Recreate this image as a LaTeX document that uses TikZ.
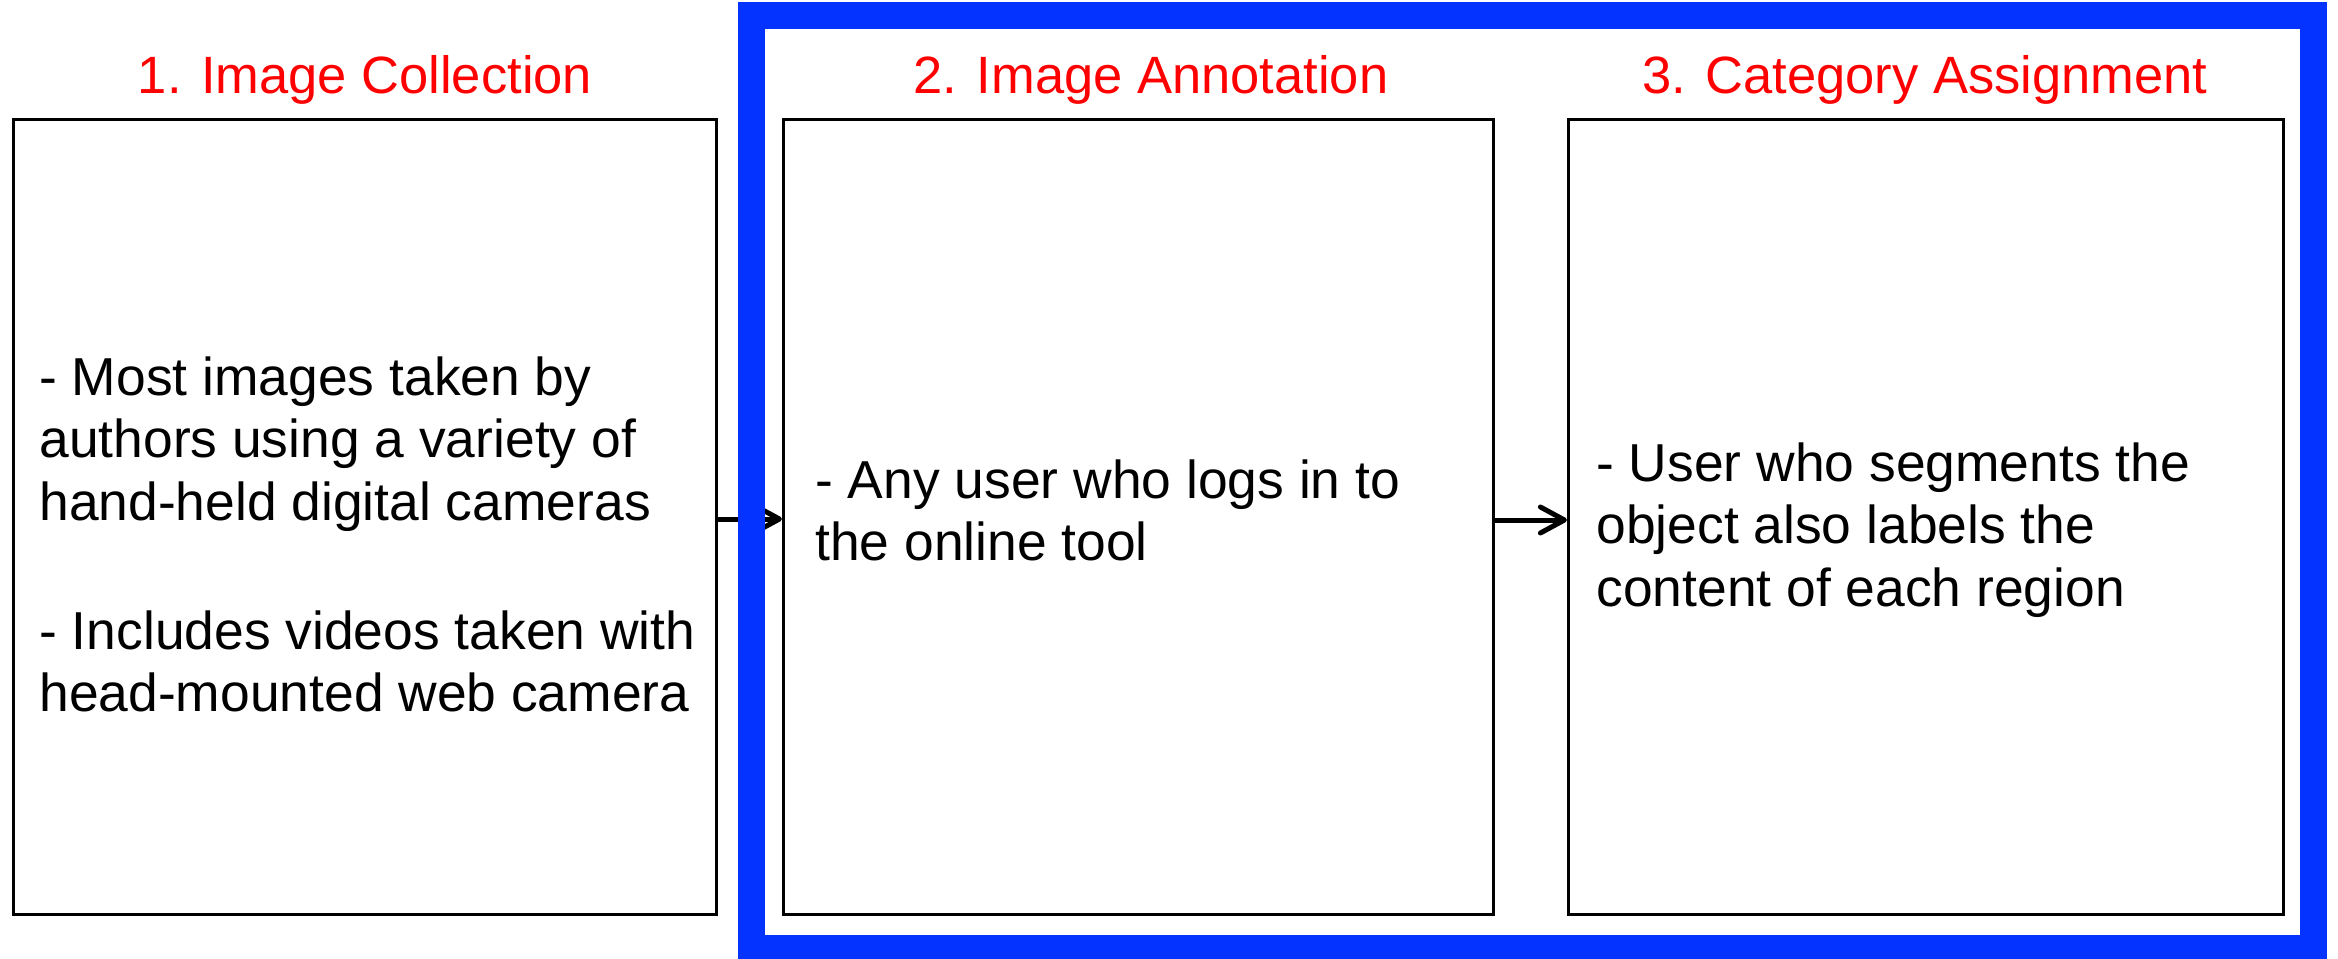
\documentclass[tikz,border=0pt]{standalone}
\usepackage{fontspec}
\setmainfont{Liberation Sans}
\usetikzlibrary{arrows.meta}
\definecolor{frameblue}{RGB}{4,51,255}
\definecolor{titlered}{RGB}{255,0,0}
\begin{document}
\begin{tikzpicture}[x=0.5pt,y=-0.5pt,
  stagebox/.style={draw=black, line width=1.6pt, minimum height=397.5pt, inner sep=0pt, fill=none},
  titletext/.style={text=titlered, font=\fontsize{26.25}{31.25}\selectfont, anchor=base, inner sep=0pt},
  bodytext/.style={text=black, font=\fontsize{26.7}{31.25}\selectfont, anchor=base west, inner sep=0pt},
  flowarrow/.style={draw=black, line width=2.5pt, -{Straight Barb[length=12pt,width=13pt,round]}},
  bigframe/.style={draw=frameblue, line width=13.5pt}]
\useasboundingbox (0,0) rectangle (2338,958);
\clip (0,0) rectangle (2338,958);

% boxes
\node[stagebox, minimum width=351.5pt] (b1) at (365,517) {};
\node[stagebox, minimum width=355pt] (b2) at (1138.5,517) {};
\node[stagebox, minimum width=357.5pt] (b3) at (1926,517) {};

% arrows
\draw[flowarrow] ([yshift=-1pt]b1.east) -- ([yshift=-1pt]b2.west);
\draw[flowarrow] ([yshift=-1.5pt]b2.east) -- ([yshift=-1.5pt]b3.west);

% blue frame
\draw[bigframe] (751.5,15.5) rectangle (2313.5,948.5);

% titles
\node[titletext] (t1) at (365,93) {1. Image Collection};
\node[titletext] (t2) at (1151,93) {2. Image Annotation};
\node[titletext] (t3) at (1925,93) {3. Category Assignment};

% body texts
\node[bodytext] (x1) at (39,395) {\begin{tabular}[t]{@{}l@{}}- Most images taken by\\ authors using a variety of\\ hand-held digital cameras\\[2pt] \\ - Includes videos taken with\\ head-mounted web camera\end{tabular}};
\node[bodytext] (x2) at (815,498) {\begin{tabular}[t]{@{}l@{}}- Any user who logs in to\\ the online tool\end{tabular}};
\node[bodytext] (x3) at (1596,481) {\begin{tabular}[t]{@{}l@{}}- User who segments the\\ object also labels the\\ content of each region\end{tabular}};
\end{tikzpicture}
\end{document}
